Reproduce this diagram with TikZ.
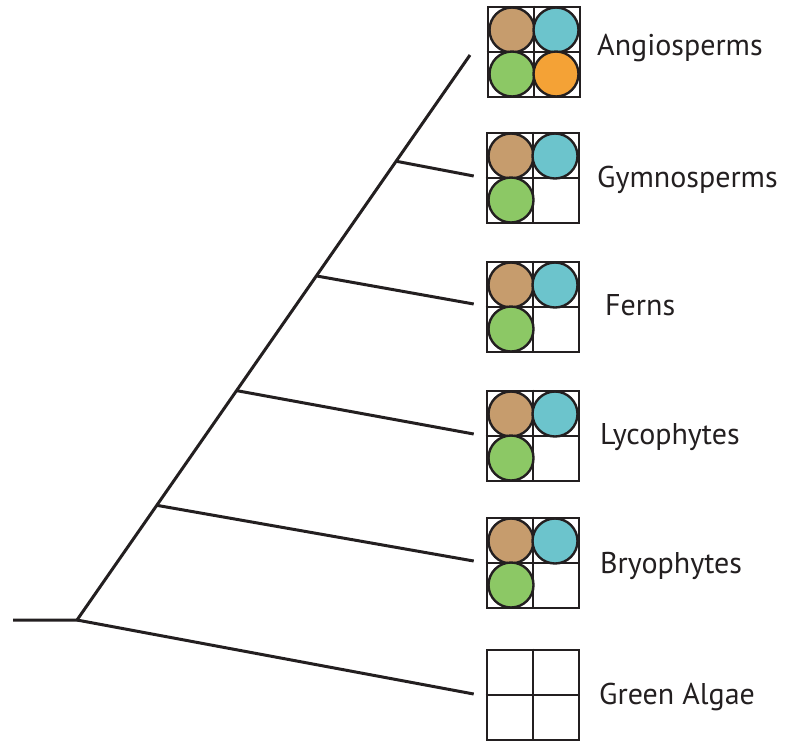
\documentclass[tikz,border=0pt]{standalone}
\usepackage{fontspec}
\setmainfont{PT Sans}
\usetikzlibrary{calc}
\definecolor{cbrown}{HTML}{C69C6D}
\definecolor{cteal}{HTML}{6CC4CC}
\definecolor{cgreen}{HTML}{8CC865}
\definecolor{corange}{HTML}{F4A236}
\definecolor{cline}{HTML}{231F20}
\tikzset{
  branch/.style={draw=cline, line width=3pt},
  grid box/.style={draw=cline, line width=2.6pt, minimum width=92pt, minimum height=90pt, inner sep=0pt},
  trait/.style={circle, draw=cline, line width=2.4pt, minimum size=45pt, inner sep=0pt, fill=#1},
  taxon/.style={anchor=west, font=\fontsize{30}{36}\selectfont, text=cline, inner sep=0pt},
}
\newcommand{\gridlines}[1]{%
  \draw[draw=cline, line width=2.6pt] (#1.north) -- (#1.south) (#1.west) -- (#1.east);}
\newcommand{\cell}[4]{% box, dx, dy, colour
  \node[trait=#4] at ($(#1.center)+(#2,#3)$) {};}
\begin{document}
\begin{tikzpicture}[x=1pt,y=-1pt]
\useasboundingbox (0,0) rectangle (786,740);

% character boxes
\node[grid box] (ang) at (534,52) {};
\node[grid box] (gym) at (533,178) {};
\node[grid box] (fer) at (533,307) {};
\node[grid box] (lyc) at (533,436) {};
\node[grid box] (bry) at (533,563) {};
\node[grid box] (alg) at (533,695) {};
\foreach \b in {ang,gym,fer,lyc,bry,alg} {\gridlines{\b}}

% traits
\cell{ang}{-22}{-22}{cbrown} \cell{ang}{22}{-22}{cteal}
\cell{ang}{-22}{22}{cgreen}  \cell{ang}{22}{22}{corange}
\foreach \b in {gym,fer,lyc,bry} {
  \cell{\b}{-22}{-22}{cbrown} \cell{\b}{22}{-22}{cteal}
  \cell{\b}{-22}{22}{cgreen}
}

% labels
\node[taxon] (tang) at (597,48) {Angiosperms};
\node[taxon] (tgym) at (597,180) {Gymnosperms};
\node[taxon] (tfer) at (605,305) {Ferns};
\node[taxon] (tlyc) at (600,437) {Lycophytes};
\node[taxon] (tbry) at (600,566) {Bryophytes};
\node[taxon] (talg) at (599,697) {Green Algae};

% tree
\coordinate (stem) at (13,620);
\coordinate (root) at (77,620);
\coordinate (top) at (470,55);
\path (root) -- (top)
  coordinate[pos=0.203] (jbry)
  coordinate[pos=0.406] (jlyc)
  coordinate[pos=0.609] (jfer)
  coordinate[pos=0.812] (jgym);
\draw[branch, line join=miter] (stem) -- (root) -- (top);
\draw[branch] (root) -- ([xshift=-12pt,yshift=1pt]alg.west);
\draw[branch] (jbry) -- ([xshift=-12pt,yshift=2pt]bry.west);
\draw[branch] (jlyc) -- ([xshift=-12pt,yshift=2pt]lyc.west);
\draw[branch] (jfer) -- ([xshift=-12pt,yshift=3pt]fer.west);
\draw[branch] (jgym) -- ([xshift=-12pt,yshift=2pt]gym.west);
\end{tikzpicture}
\end{document}
